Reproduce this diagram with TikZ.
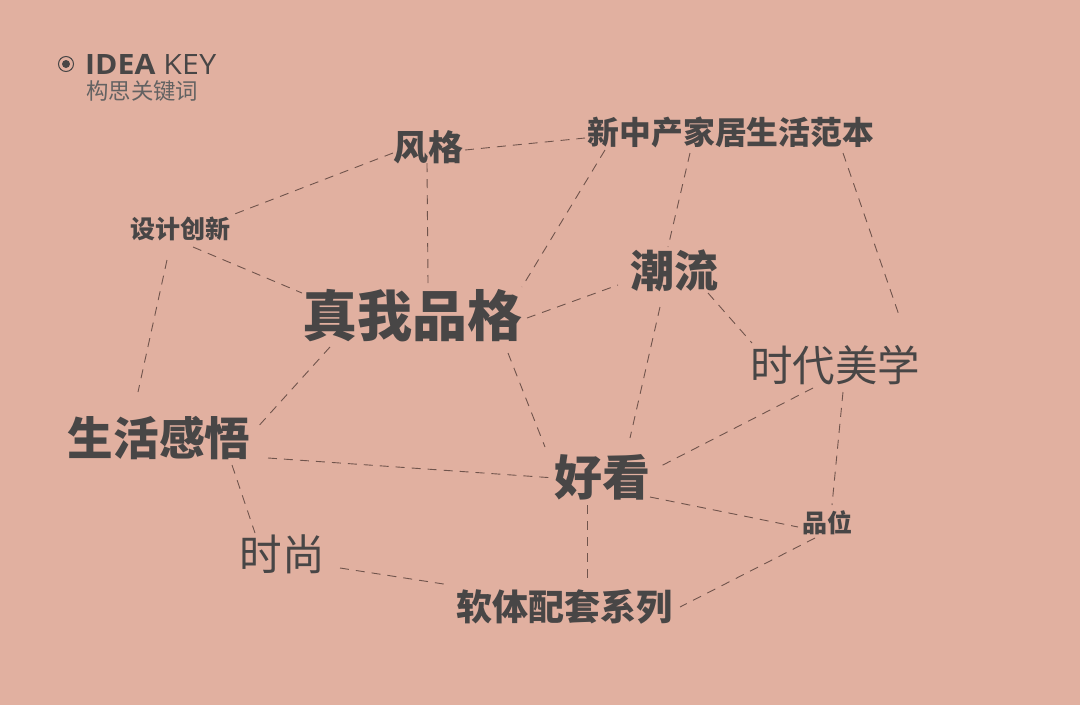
\documentclass[tikz,border=0pt]{standalone}
\usepackage{fontspec}
\usetikzlibrary{calc}
\newfontfamily\cjk{Noto Sans CJK SC}
\newfontfamily\latn{Open Sans}
\definecolor{bgc}{RGB}{225,176,160}
\definecolor{txtc}{RGB}{72,70,70}
\definecolor{linec}{RGB}{112,84,76}
\newcommand{\fs}[1]{\fontsize{#1}{#1}\selectfont}
\tikzset{
  kw/.style={inner sep=0pt, text=txtc, font=\cjk\bfseries},
  kwl/.style={inner sep=0pt, text=txtc, font=\cjk},
  link/.style={draw=linec, line width=0.9pt, dash pattern=on 9pt off 7pt}
}
\begin{document}
\begin{tikzpicture}[x=1pt,y=-1pt]
\fill[bgc] (0,0) rectangle (1080,705);
\useasboundingbox (0,0) rectangle (1080,705);
% header
\draw[txtc, line width=1pt] (66,64) circle (7.5);
\fill[txtc] (66,64) circle (4);
\node[inner sep=0pt, anchor=west, text=txtc, font=\latn\fs{28}, xscale=1.08] (ik) at (85,64) {\textbf{IDEA} K\kern0.3ptE\kern0.3ptY};
\node[kwl, anchor=west, font=\cjk\fs{22.4}, text=txtc!85] (gs) at (86,91) {构思关键词};
% keywords
\node[kw, font=\cjk\bfseries\fs{35}] (fg) at (428,147) {风格};
\node[kw, font=\cjk\bfseries\fs{31.8}] (xz) at (731,132) {新中产家居生活范本};
\node[kw, font=\cjk\bfseries\fs{25}] (sj) at (180,229) {设计创新};
\node[kw, font=\cjk\bfseries\fs{55}] (zw) at (412,316) {真我品格};
\node[kw, font=\cjk\bfseries\fs{44}] (cl) at (674,271) {潮流};
\node[kwl, font=\cjk\fs{42.5}] (sd) at (835,365) {时代美学};
\node[kw, font=\cjk\bfseries\fs{45.6}] (sh) at (159,438) {生活感悟};
\node[kw, font=\cjk\bfseries\fs{48}] (hk) at (602,477) {好看};
\node[kw, font=\cjk\bfseries\fs{25}] (pw) at (827,523) {品位};
\node[kwl, font=\cjk\fs{42.6}] (ss) at (282,554) {时尚};
\node[kw, font=\cjk\bfseries\fs{36}] (rt) at (564,607) {软体配套系列};
% connectors
\draw[link] ($(fg)+(37,3)$) -- ($(xz)+(-146,6)$);
\draw[link] ($(fg)+(-35,6)$) -- ($(sj)+(52,-14)$);
\draw[link] ($(fg)+(-1,16)$) -- ($(zw)+(16,-33)$);
\draw[link] ($(sj)+(13,18)$) -- ($(zw)+(-110,-23)$);
\draw[link] ($(sj)+(-13,31)$) -- ($(sh)+(-21,-46)$);
\draw[link] ($(xz)+(-126,18)$) -- ($(zw)+(110,-29)$);
\draw[link] ($(xz)+(-41,21)$) -- ($(cl)+(-6,-24)$);
\draw[link] ($(cl)+(-14,36)$) -- ($(hk)+(28,-39)$);
\draw[link] ($(xz)+(112,21)$) -- ($(sd)+(65,-47)$);
\draw[link] ($(zw)+(115,2)$) -- ($(cl)+(-56,14)$);
\draw[link] ($(cl)+(34,22)$) -- ($(sd)+(-83,-22)$);
\draw[link] ($(zw)+(-82,31)$) -- ($(sh)+(96,-8)$);
\draw[link] ($(zw)+(96,37)$) -- ($(hk)+(-57,-30)$);
\draw[link] ($(sh)+(109,20)$) -- ($(hk)+(-47,1)$);
\draw[link] ($(sh)+(73,27)$) -- ($(ss)+(-27,-21)$);
\draw[link] ($(sd)+(-22,23)$) -- ($(hk)+(55,-9)$);
\draw[link] ($(sd)+(8,27)$) -- ($(pw)+(5,-18)$);
\draw[link] ($(hk)+(48,20)$) -- ($(pw)+(-29,4)$);
\draw[link] ($(hk)+(-15,28)$) -- ($(rt)+(23,-22)$);
\draw[link] ($(ss)+(58,14)$) -- ($(rt)+(-114,-22)$);
\draw[link] ($(pw)+(-12,15)$) -- ($(rt)+(116,0)$);
\end{tikzpicture}
\end{document}
